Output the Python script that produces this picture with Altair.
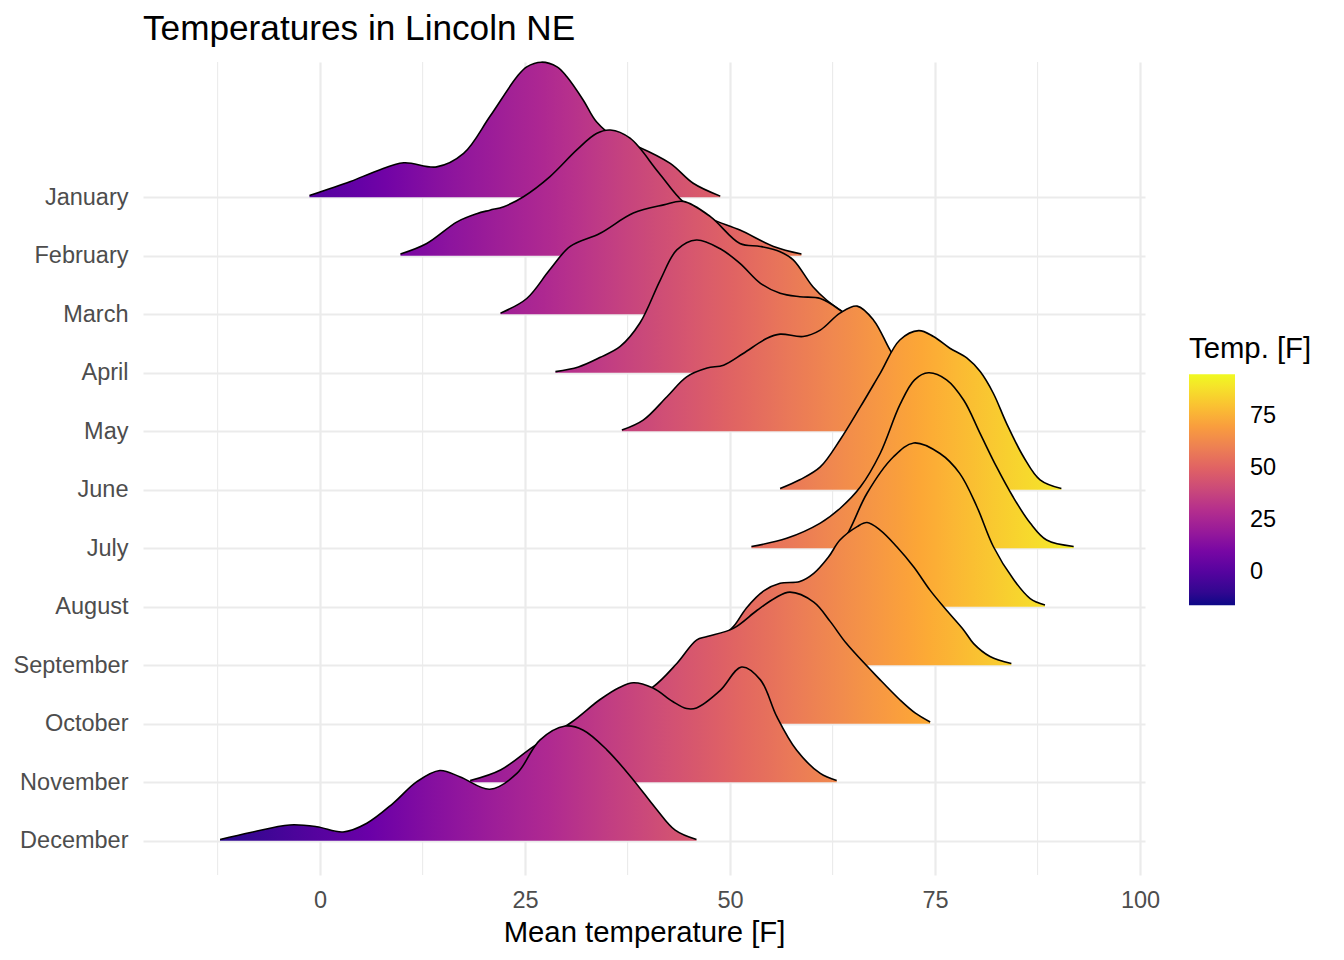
import altair as alt
import pandas as pd

# Month names, top row first
MONTHS = ["January", "February", "March", "April", "May", "June", "July",
          "August", "September", "October", "November", "December"]

# Ridge profiles: temperature [F] and ridge height (in row units, scale = 3)
jan_t = [-1.3, 3.7, 6.9, 10.2, 14.2, 17.5, 20.7, 24.0, 25.2, 27.0, 28.9, 30.1, 32.1, 33.7, 36.2, 38.7, 42.7, 45.5, 48.8]
jan_h = [0.03, 0.27, 0.45, 0.59, 0.52, 0.75, 1.38, 2.06, 2.23, 2.31, 2.23, 2.06, 1.66, 1.29, 1.00, 0.87, 0.58, 0.24, 0.02]

feb_t = [9.8, 13.0, 16.7, 19.1, 20.7, 22.4, 24.8, 28.0, 31.3, 33.7, 35.4, 37.8, 41.3, 44.3, 47.6, 51.2, 55.3, 58.7]
feb_h = [0.03, 0.21, 0.58, 0.72, 0.78, 0.84, 1.01, 1.35, 1.81, 2.09, 2.15, 2.01, 1.42, 0.92, 0.64, 0.44, 0.16, 0.03]

mar_t = [22.0, 25.2, 28.0, 30.5, 34.1, 38.2, 41.9, 44.3, 47.6, 51.2, 53.7, 56.1, 57.7, 60.1, 61.8, 64.0]
mar_h = [0.02, 0.27, 0.76, 1.16, 1.38, 1.73, 1.87, 1.93, 1.67, 1.21, 1.16, 1.07, 0.93, 0.47, 0.24, 0.02]

apr_t = [28.7, 31.5, 34.1, 36.6, 39.0, 41.5, 43.5, 45.9, 48.8, 51.2, 53.7, 56.1, 58.5, 61.0, 63.4, 66.0, 69.0, 72.0]
apr_h = [0.02, 0.10, 0.26, 0.45, 0.85, 1.59, 2.10, 2.27, 2.12, 1.87, 1.53, 1.36, 1.30, 1.27, 1.07, 0.75, 0.30, 0.03]

may_t = [36.8, 39.4, 42.3, 44.7, 47.2, 49.2, 51.6, 54.5, 56.1, 58.9, 61.0, 63.4, 65.5, 67.5, 69.5, 72.0, 75.0, 78.0]
may_h = [0.02, 0.19, 0.59, 0.93, 1.08, 1.13, 1.33, 1.59, 1.66, 1.62, 1.73, 2.02, 2.14, 1.90, 1.39, 0.80, 0.30, 0.03]

jun_t = [56.1, 58.5, 61.0, 63.4, 65.9, 68.3, 70.7, 73.0, 74.8, 76.8, 78.9, 80.5, 82.1, 83.7, 85.8, 87.8, 90.4]
jun_h = [0.02, 0.17, 0.39, 0.85, 1.42, 1.99, 2.56, 2.72, 2.62, 2.42, 2.25, 2.02, 1.65, 1.14, 0.56, 0.17, 0.02]

jul_t = [52.6, 56.9, 61.0, 63.4, 65.9, 68.3, 70.7, 72.5, 74.2, 76.4, 78.5, 80.5, 82.5, 84.5, 86.6, 88.6, 91.9]
jul_h = [0.03, 0.17, 0.43, 0.68, 1.05, 1.62, 2.45, 2.88, 3.00, 2.88, 2.53, 1.96, 1.39, 0.88, 0.43, 0.14, 0.03]

aug_t = [53.0, 56.0, 59.0, 61.0, 62.6, 64.7, 66.7, 69.9, 72.4, 75.6, 78.0, 80.1, 82.1, 84.6, 86.6, 88.4]
aug_h = [0.01, 0.12, 0.30, 0.52, 0.80, 1.35, 1.94, 2.56, 2.80, 2.62, 2.28, 1.71, 1.03, 0.46, 0.14, 0.03]

sep_t = [44.0, 46.0, 48.0, 50.4, 52.0, 54.1, 56.1, 58.5, 60.2, 62.0, 63.4, 65.5, 66.7, 68.3, 70.3, 72.4, 74.4, 76.4, 78.5, 79.7, 81.7, 84.3]
sep_h = [0.01, 0.10, 0.36, 0.66, 0.98, 1.27, 1.40, 1.43, 1.57, 1.85, 2.14, 2.37, 2.44, 2.31, 2.03, 1.68, 1.28, 0.94, 0.60, 0.37, 0.15, 0.03]

oct_t = [30.7, 34.0, 37.5, 40.6, 43.5, 45.9, 47.2, 50.4, 53.3, 55.5, 57.3, 60.2, 62.2, 64.2, 68.3, 70.7, 72.6, 74.4]
oct_h = [0.02, 0.20, 0.42, 0.63, 1.03, 1.43, 1.49, 1.63, 1.94, 2.15, 2.25, 2.08, 1.75, 1.37, 0.75, 0.41, 0.18, 0.03]

nov_t = [18.3, 22.0, 26.0, 30.7, 34.1, 36.5, 38.2, 40.6, 43.0, 44.7, 45.9, 48.8, 51.4, 53.7, 55.7, 58.1, 61.0, 63.0]
nov_h = [0.03, 0.21, 0.61, 1.03, 1.41, 1.62, 1.70, 1.61, 1.38, 1.26, 1.27, 1.57, 1.97, 1.75, 1.12, 0.55, 0.15, 0.03]

dec_t = [-12.2, -8.5, -3.7, -0.4, 2.8, 5.7, 8.9, 11.8, 14.6, 17.1, 20.7, 24.0, 26.8, 29.9, 32.1, 35.0, 38.2, 40.9, 43.3, 45.9]
dec_h = [0.02, 0.14, 0.27, 0.24, 0.15, 0.30, 0.64, 1.01, 1.20, 1.09, 0.88, 1.15, 1.72, 1.96, 1.89, 1.55, 1.04, 0.56, 0.18, 0.02]

TEMPS = [jan_t, feb_t, mar_t, apr_t, may_t, jun_t, jul_t, aug_t, sep_t, oct_t, nov_t, dec_t]
HEIGHTS = [jan_h, feb_h, mar_h, apr_h, may_h, jun_h, jul_h, aug_h, sep_h, oct_h, nov_h, dec_h]

X_TICKS = [0, 25, 50, 75, 100]
X_MINOR = [-12.5, 12.5, 37.5, 62.5, 87.5]
LEGEND_TICKS = [0, 25, 50, 75]

# Fill scale: viridis option "C" (plasma), 6 anchors blended in CIELAB
PLASMA6 = ["#0D0887", "#6A00A8", "#B12A90", "#E16462", "#FCA636", "#F0F921"]
C_MIN, C_MAX = -16.2, 95.3

FONT = "Liberation Sans"
GRID = "#EBEBEB"
CURVE = "catmull-rom"


def _lin(c):
    c /= 255.0
    return c / 12.92 if c <= 0.04045 else ((c + 0.055) / 1.055) ** 2.4


def _gam(c):
    c = 12.92 * c if c <= 0.0031308 else 1.055 * c ** (1 / 2.4) - 0.055
    return max(0, min(255, round(c * 255)))


def _f(t):
    d = 6 / 29
    return t ** (1 / 3) if t > d ** 3 else t / (3 * d * d) + 4 / 29


def _finv(t):
    d = 6 / 29
    return t ** 3 if t > d else 3 * d * d * (t - 4 / 29)


WHITE = (0.95047, 1.0, 1.08883)


def hex_to_lab(h):
    r, g, b = (_lin(int(h[i:i + 2], 16)) for i in (1, 3, 5))
    x = (0.4124564 * r + 0.3575761 * g + 0.1804375 * b) / WHITE[0]
    y = (0.2126729 * r + 0.7151522 * g + 0.0721750 * b) / WHITE[1]
    z = (0.0193339 * r + 0.1191920 * g + 0.9503041 * b) / WHITE[2]
    fx, fy, fz = _f(x), _f(y), _f(z)
    return (116 * fy - 16, 500 * (fx - fy), 200 * (fy - fz))


def lab_to_hex(lab):
    L, a, b = lab
    fy = (L + 16) / 116
    fx = fy + a / 500
    fz = fy - b / 200
    x, y, z = _finv(fx) * WHITE[0], _finv(fy) * WHITE[1], _finv(fz) * WHITE[2]
    r = 3.2404542 * x - 1.5371385 * y - 0.4985314 * z
    g = -0.9692660 * x + 1.8760108 * y + 0.0415560 * z
    bl = 0.0556434 * x - 0.2040259 * y + 1.0572252 * z
    return "#%02x%02x%02x" % (_gam(r), _gam(g), _gam(bl))


PLASMA_LAB = [hex_to_lab(c) for c in PLASMA6]


def fill_colour(temp):
    u = (temp - C_MIN) / (C_MAX - C_MIN)
    u = max(0.0, min(1.0, u))
    pos = u * (len(PLASMA_LAB) - 1)
    i = min(int(pos), len(PLASMA_LAB) - 2)
    f = pos - i
    a, b = PLASMA_LAB[i], PLASMA_LAB[i + 1]
    return lab_to_hex(tuple(a[k] + (b[k] - a[k]) * f for k in range(3)))


def ridge_gradient(t_lo, t_hi, n=16):
    stops = []
    for k in range(n + 1):
        off = k / n
        stops.append(alt.GradientStop(offset=off, color=fill_colour(t_lo + off * (t_hi - t_lo))))
    return alt.Gradient(gradient="linear", stops=stops, x1=0, x2=1, y1=0, y2=0)


x_scale = alt.Scale(domain=[-21.6, 100.6], nice=False, zero=False)
y_scale = alt.Scale(domain=[0.414, 14.313], nice=False, zero=False)

label_list = "['', " + ", ".join("'%s'" % m for m in reversed(MONTHS)) + "]"

x_axis = alt.Axis(values=X_TICKS, grid=True, gridColor=GRID, gridWidth=2.2,
                  domain=False, ticks=False, labelFlush=False,
                  labelFont=FONT, labelFontSize=23.5, labelColor="#4D4D4D",
                  labelPadding=13, title="Mean temperature [F]",
                  titleFont=FONT, titleFontSize=29.3, titleFontWeight="normal",
                  titleColor="black", titlePadding=7)
y_axis = alt.Axis(values=list(range(1, 13)), labelExpr=label_list + "[datum.value]",
                  grid=True, gridColor=GRID, gridWidth=2.2, domain=False, ticks=False,
                  labelFont=FONT, labelFontSize=23.5, labelColor="#4D4D4D",
                  labelPadding=15, labelFlush=False, title="")

X = alt.X("t:Q", scale=x_scale, axis=x_axis)

layers = []

# minor vertical grid lines
minor = pd.DataFrame({"t": X_MINOR})
layers.append(
    alt.Chart(minor).mark_rule(color=GRID, strokeWidth=1.1).encode(x=X)
)

for i, (month, ts, hs) in enumerate(zip(MONTHS, TEMPS, HEIGHTS)):
    row = 12 - i
    df = pd.DataFrame({"t": ts, "h": hs})
    df["base"] = row
    df["top"] = df["base"] + df["h"]
    Y = alt.Y("top:Q", scale=y_scale, axis=y_axis)
    area = alt.Chart(df).mark_area(
        interpolate=CURVE, fill=ridge_gradient(min(ts), max(ts)), opacity=1
    ).encode(x=X, y=Y, y2="base:Q")
    line = alt.Chart(df).mark_line(
        interpolate=CURVE, color="black", strokeWidth=1.6
    ).encode(x=X, y=Y)
    layers += [area, line]

# colour bar for the fill scale
n_anchor = len(PLASMA6)
legend_domain = [C_MIN + k * (C_MAX - C_MIN) / (n_anchor - 1) for k in range(n_anchor)]
key = pd.DataFrame({"t": [C_MIN, C_MAX], "top": [1, 1]})
layers.append(
    alt.Chart(key).mark_point(opacity=0, size=1).encode(
        x=X,
        y=alt.Y("top:Q", scale=y_scale, axis=y_axis),
        color=alt.Color(
            "t:Q",
            scale=alt.Scale(domain=legend_domain, range=PLASMA6, interpolate="lab"),
            legend=alt.Legend(
                title="Temp. [F]", orient="none", legendX=1046, legendY=273,
                direction="vertical", gradientLength=231, gradientThickness=46,
                gradientStrokeWidth=0, values=LEGEND_TICKS, padding=0,
                titleFont=FONT, titleFontSize=29.3, titleFontWeight="normal",
                titleColor="black", titlePadding=10, titleLimit=400,
                labelFont=FONT, labelFontSize=23.5, labelColor="black",
                labelOffset=15, labelOverlap=False,
            ),
        ),
    )
)

chart = alt.layer(*layers).properties(
    width=1002,
    height=813,
    title=alt.TitleParams(
        "Temperatures in Lincoln NE", anchor="start", frame="group",
        font=FONT, fontSize=35.2, fontWeight="normal", color="black", offset=12,
    ),
    padding={"left": 143, "top": 62, "right": 199, "bottom": 85},
    autosize=alt.AutoSizeParams(type="none"),
    background="white",
).configure_view(strokeWidth=0)

chart.save("out.html", embed_options={"renderer": "svg", "actions": False})
